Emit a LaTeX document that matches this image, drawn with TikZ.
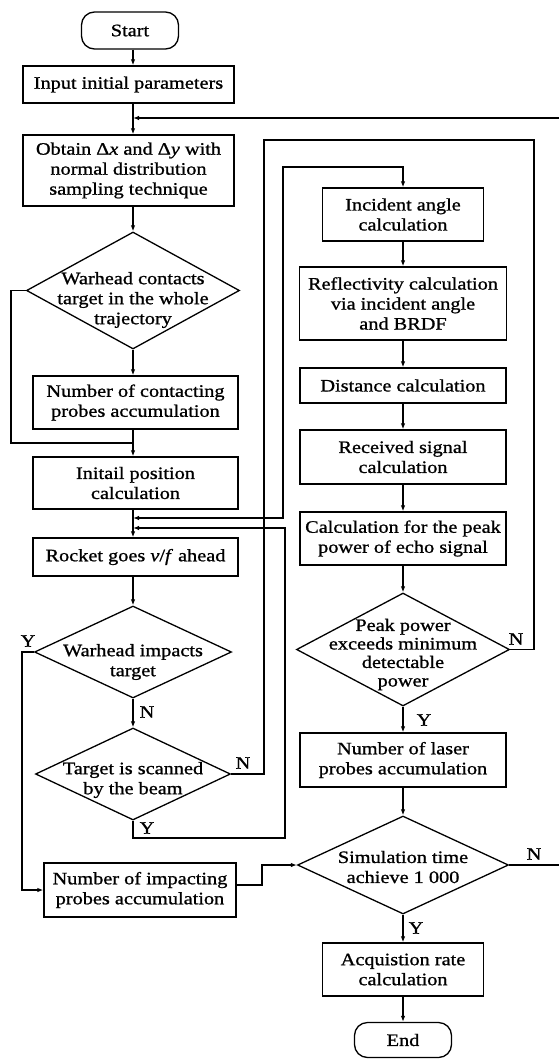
\documentclass[tikz,border=0pt]{standalone}
\usepackage{fontspec}
\setmainfont[FakeStretch=1.16,FakeBold=1]{Liberation Serif}
\usetikzlibrary{shapes.geometric,arrows.meta}
\newcommand\fs{\fontsize{17.5}{20}\selectfont}
\tikzset{
  every path/.style={line width=1.3pt},
  box/.style={draw, rectangle, inner sep=0pt, align=center, font=\fs},
  term/.style={draw, rectangle, rounded corners=13pt, inner sep=0pt, align=center, font=\fs},
  dia/.style={draw, diamond, inner sep=0pt},
  txt/.style={inner sep=0pt, align=center, font=\fs},
  lbl/.style={inner sep=0pt, font=\fs},
  arr/.style={-{Latex[length=6pt,width=4.5pt]}},
  arrtwo/.style={{Latex[length=6pt,width=4.5pt]}-{Latex[length=6pt,width=4.5pt]}}
}
\begin{document}
\begin{tikzpicture}[x=1pt,y=-1pt]
\useasboundingbox (0,0) rectangle (558,1059);
% left column
\node[term, minimum width=97pt, minimum height=37pt] (start) at (130,30.5) {Start};
\node[box, minimum width=211pt, minimum height=37pt] (input) at (128.5,84.5) {Input initial parameters};
\node[box, minimum width=211pt, minimum height=71pt] (obtain) at (128.5,170.5) {Obtain Δ\textit{x} and Δ\textit{y} with\\normal distribution\\sampling technique};
\node[dia, minimum width=213pt, minimum height=117pt] (d1) at (133,290.5) {};
\node[txt] (d1t) at (133,300) {Warhead contacts\\target in the whole\\trajectory};
\node[box, minimum width=205pt, minimum height=53pt] (contact) at (135.5,402.5) {Number of contacting\\probes accumulation};
\node[box, minimum width=205pt, minimum height=52pt] (initpos) at (135.5,483) {Initail position\\calculation};
\node[box, minimum width=205pt, minimum height=38pt] (rocket) at (135.5,557) {Rocket goes \textit{v}/\textit{f} ahead};
\node[dia, minimum width=197pt, minimum height=92pt] (d2) at (133,652) {};
\node[txt] (d2t) at (133,662) {Warhead impacts\\target};
\node[dia, minimum width=195pt, minimum height=92pt] (d3) at (133,774) {};
\node[txt] (d3t) at (133,780) {Target is scanned\\by the beam};
\node[box, minimum width=192pt, minimum height=54pt] (impact) at (140,890) {Number of impacting\\probes accumulation};
% right column
\node[box, minimum width=161pt, minimum height=53pt] (inc) at (403,214.5) {Incident angle\\calculation};
\node[box, minimum width=207pt, minimum height=73pt] (refl) at (403,303.5) {Reflectivity calculation\\via incident angle\\and BRDF};
\node[box, minimum width=206pt, minimum height=35pt] (dist) at (403,385.5) {Distance calculation};
\node[box, minimum width=206pt, minimum height=54pt] (recv) at (403,457) {Received signal\\calculation};
\node[box, minimum width=206pt, minimum height=53pt] (peak) at (403,538.5) {Calculation for the peak\\power of echo signal};
\node[dia, minimum width=213pt, minimum height=113pt] (d4) at (403,649.5) {};
\node[txt, font=\fontsize{17.5}{18.5}\selectfont] (d4t) at (403,654.5) {Peak power\\exceeds minimum\\detectable\\power};
\node[box, minimum width=206pt, minimum height=54pt] (laser) at (403,760) {Number of laser\\probes accumulation};
\node[dia, minimum width=211pt, minimum height=98pt] (d5) at (403,865) {};
\node[txt] (d5t) at (403,867) {Simulation time\\achieve 1 000};
\node[box, minimum width=161pt, minimum height=53pt] (acq) at (403,969.5) {Acquistion rate\\calculation};
\node[term, minimum width=97pt, minimum height=35pt] (end) at (403,1040) {End};
% labels
\node[lbl] (lY2) at (28,641) {Y};
\node[lbl] (lN2) at (147,712) {N};
\node[lbl] (lN3) at (243,763) {N};
\node[lbl] (lY3) at (147,828) {Y};
\node[lbl] (lN4) at (516,639) {N};
\node[lbl] (lY4) at (424,720) {Y};
\node[lbl] (lN5) at (534,854) {N};
\node[lbl] (lY5) at (416,928) {Y};
% helper coordinates
\coordinate (col) at (133,0);
\coordinate (lp1) at (11,443);
\coordinate (yl) at (22,0);
\coordinate (nx) at (264,140);
\coordinate (nx2) at (534,140);
\coordinate (yb) at (285,838);
\coordinate (j1) at (133,518);
\coordinate (j2) at (133,528);
\coordinate (ub) at (283,167);
\coordinate (ib) at (262,865);
\coordinate (rt) at (561,118);
% left connectors
\draw[arr] (start.south -| col) -- (input.north -| col);
\draw[arr] (input.south -| col) -- (obtain.north -| col);
\draw[arr] (obtain.south -| col) -- (d1.north);
\draw[arr] (d1.south) -- (contact.north -| col);
\draw (d1.west) -| (lp1) -- (lp1 -| col);
\draw[arr] (contact.south -| col) -- (initpos.north -| col);
\draw[arr] (initpos.south -| col) -- (rocket.north -| col);
\draw[arr] (rocket.south -| col) -- (d2.north);
\draw[arr] (d2.south) -- (d3.north);
\draw[arr] (d2.west) -| (yl |- impact.west) -- (impact.west);
\draw (d3.east) -| (nx) -- (nx2) |- (d4.east);
\draw[arr] (d3.south) |- (yb) |- (j2);
\draw[arrtwo] (j1) -| (ub) -| (inc.north);
\draw[arr] ([yshift=5pt]impact.east) -| (ib) -- (d5.west);
% right connectors
\draw[arr] (inc.south) -- (refl.north);
\draw[arr] (refl.south) -- (dist.north);
\draw[arr] (dist.south) -- (recv.north);
\draw[arr] (recv.south) -- (peak.north);
\draw[arr] (peak.south) -- (d4.north);
\draw[arr] (d4.south) -- (laser.north);
\draw[arr] (laser.south) -- (d5.north);
\draw[arr] (d5.south) -- (acq.north);
\draw[arr] (acq.south) -- (end.north);
\draw[arr] (d5.east) -| (rt) -- (rt -| col);
\end{tikzpicture}
\end{document}
